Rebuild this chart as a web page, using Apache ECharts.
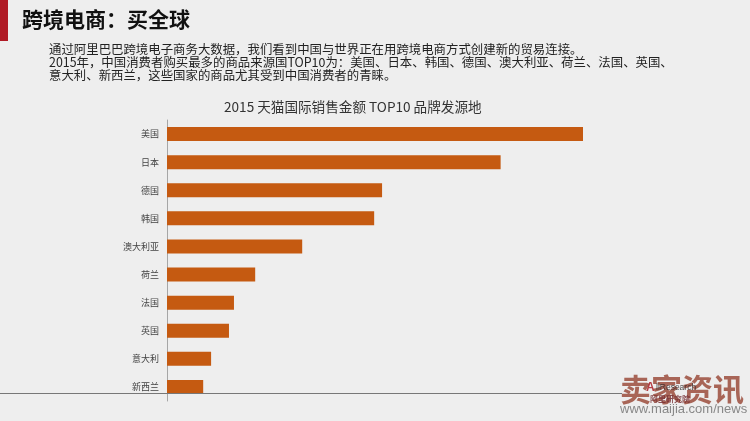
<!DOCTYPE html>
<html><head><meta charset="utf-8">
<style>html,body{margin:0;padding:0;background:#eeeeee}#c{width:750px;height:421px}</style>
<script src="https://cdn.jsdelivr.net/npm/echarts@6/dist/echarts.min.js"></script>
</head><body><div id="c"></div>
<script>
const categories = ['美国','日本','德国','韩国','澳大利亚','荷兰','法国','英国','意大利','新西兰'];
const salesIndex = [100, 80.2, 51.7, 49.8, 32.5, 21.2, 16.1, 14.9, 10.6, 8.7];
const heading = '跨境电商：买全球';
const bodyLines = [
  '通过阿里巴巴跨境电子商务大数据，我们看到中国与世界正在用跨境电商方式创建新的贸易连接。',
  '2015年，中国消费者购买最多的商品来源国TOP10为：美国、日本、韩国、德国、澳大利亚、荷兰、法国、英国、',
  '意大利、新西兰，这些国家的商品尤其受到中国消费者的青睐。'
];
const chartTitle = '2015 天猫国际销售金额 TOP10 品牌发源地';
const cjk = '"Noto Sans CJK SC","Liberation Sans",sans-serif';
const chart = echarts.init(document.getElementById('c'), null, {renderer:'canvas'});
const txt = (x,y,text,font,fill,extra) => ({type:'text',x,y,z:10,style:Object.assign({text,font,fill,textVerticalAlign:'middle'},extra||{})});
chart.setOption({
  backgroundColor:'#eeeeee',
  animation:false,
  title:{text:chartTitle,left:224,top:100,padding:0,textStyle:{fontFamily:cjk,fontSize:13.6,fontWeight:'normal',color:'#333333'}},
  grid:{left:167,top:120,width:416,height:281},
  xAxis:{type:'value',min:0,max:100,show:false},
  yAxis:{type:'category',inverse:true,data:categories,
    axisLine:{show:true,lineStyle:{color:'#a6a6a6',width:1}},
    axisTick:{show:false},
    axisLabel:{margin:8,fontFamily:cjk,fontSize:9,color:'#444444'}},
  series:[{type:'bar',data:salesIndex,barWidth:14,itemStyle:{color:'#c55a11'},
    emphasis:{disabled:true}}],
  graphic:[
    {type:'rect',shape:{x:0,y:0,width:8,height:41},style:{fill:'#b01a25'}},
    txt(22,19,heading,'bold 21px '+cjk,'#111111'),
    txt(49,49,bodyLines[0],'12.42px '+cjk,'#222222'),
    txt(49,62,bodyLines[1],'12.42px '+cjk,'#222222'),
    txt(49,75,bodyLines[2],'12.42px '+cjk,'#222222'),
    {type:'rect',z:5,shape:{x:0,y:393,width:622,height:1},style:{fill:'#777777'}},
    txt(620,389,'卖家资讯','bold 31px '+cjk,'rgba(160,85,70,0.9)'),
    txt(646,388,'A','bold 12px "Liberation Sans",sans-serif','rgba(170,30,40,0.85)'),
    txt(656,388,'liResearch','8.5px "Liberation Sans",sans-serif','rgba(50,45,45,0.85)'),
    txt(650,399,'阿里研究院','bold 8px '+cjk,'rgba(120,50,55,0.85)'),
    txt(620,409,'www.maijia.com/news','13px "Liberation Sans",sans-serif','#888888')
  ]
});
</script></body></html>
